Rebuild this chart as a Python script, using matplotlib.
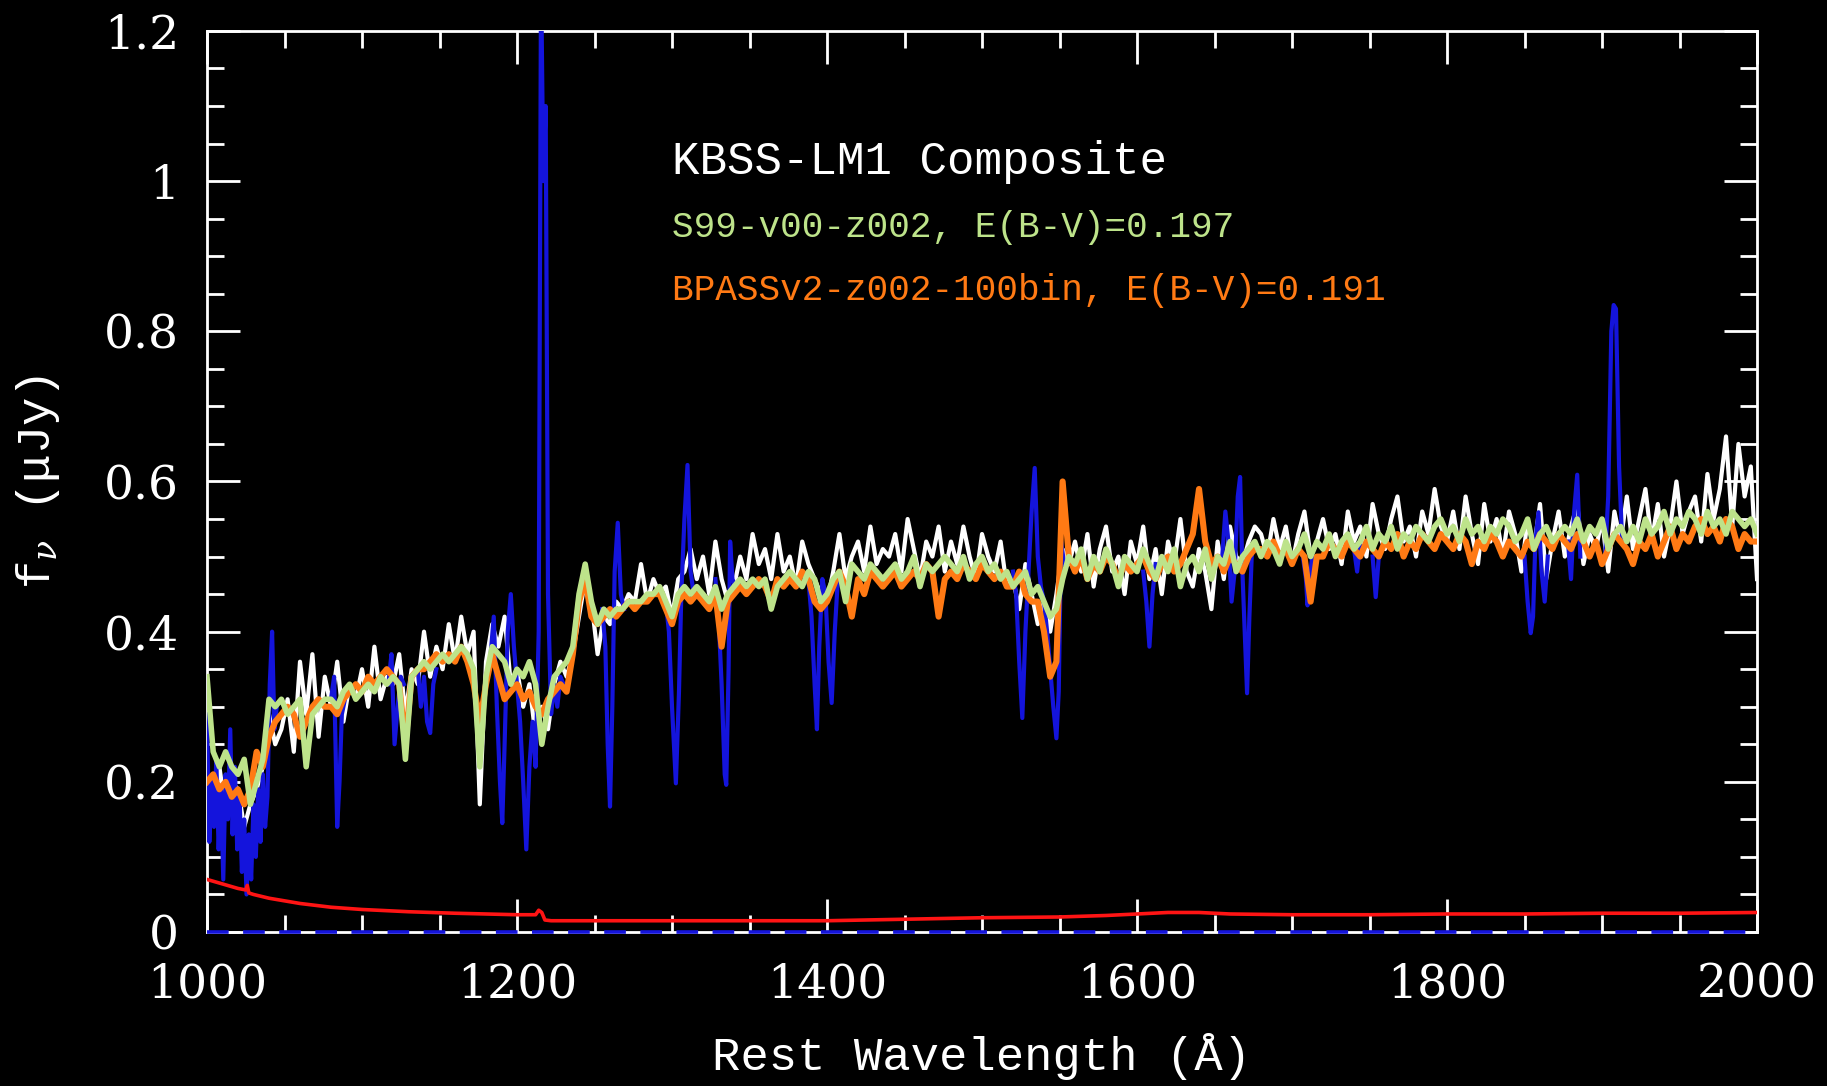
import numpy as np
import matplotlib
matplotlib.use("Agg")
import matplotlib.pyplot as plt
from matplotlib.ticker import MultipleLocator

# ---------------------------------------------------------------- data
# rest-frame wavelength grid of the composite and model spectra (Angstrom)
wave = np.arange(1000, 2001, 4)

# KBSS-LM1 composite (micro-Jansky)
flux_obs = (
    [0.21, 0.18, 0.22, 0.16, 0.20, 0.19, 0.14, 0.17, 0.19, 0.22] +
    [0.29, 0.25, 0.27, 0.31, 0.24, 0.36, 0.29, 0.37, 0.26, 0.34] +
    [0.30, 0.36, 0.28, 0.33, 0.31, 0.35, 0.30, 0.38, 0.31, 0.34] +
    [0.33, 0.37, 0.29, 0.35, 0.33, 0.40, 0.34, 0.38, 0.35, 0.41] +
    [0.36, 0.42, 0.37, 0.40, 0.17, 0.36, 0.41, 0.38, 0.42, 0.33] +
    [0.35, 0.30, 0.33, 0.26, 0.30, 0.27, 0.33, 0.36, 0.34, 0.37] +
    [0.42, 0.47, 0.44, 0.37, 0.42, 0.41, 0.44, 0.43, 0.45, 0.44] +
    [0.49, 0.44, 0.47, 0.45, 0.46, 0.42, 0.47, 0.48, 0.51, 0.47] +
    [0.50, 0.45, 0.52, 0.47, 0.44, 0.46, 0.50, 0.47, 0.53, 0.49] +
    [0.51, 0.47, 0.53, 0.48, 0.50, 0.46, 0.52, 0.49, 0.47, 0.45] +
    [0.44, 0.48, 0.53, 0.47, 0.50, 0.52, 0.48, 0.54, 0.49, 0.51] +
    [0.50, 0.53, 0.48, 0.55, 0.51, 0.47, 0.52, 0.50, 0.54, 0.48] +
    [0.52, 0.49, 0.54, 0.50, 0.47, 0.53, 0.50, 0.48, 0.52, 0.46] +
    [0.47, 0.43, 0.49, 0.45, 0.41, 0.44, 0.40, 0.45, 0.51, 0.49] +
    [0.52, 0.48, 0.53, 0.46, 0.51, 0.54, 0.48, 0.50, 0.45, 0.52] +
    [0.49, 0.54, 0.47, 0.51, 0.45, 0.52, 0.49, 0.55, 0.48, 0.46] +
    [0.51, 0.48, 0.43, 0.52, 0.47, 0.54, 0.50, 0.49, 0.52, 0.54] +
    [0.53, 0.50, 0.55, 0.51, 0.54, 0.49, 0.53, 0.56, 0.50, 0.52] +
    [0.55, 0.51, 0.53, 0.49, 0.56, 0.52, 0.54, 0.50, 0.57, 0.53] +
    [0.51, 0.55, 0.58, 0.52, 0.54, 0.50, 0.56, 0.53, 0.59, 0.54] +
    [0.52, 0.56, 0.51, 0.58, 0.53, 0.49, 0.57, 0.52, 0.55, 0.50] +
    [0.56, 0.53, 0.48, 0.55, 0.51, 0.57, 0.47, 0.52, 0.56, 0.50] +
    [0.54, 0.57, 0.49, 0.53, 0.51, 0.55, 0.48, 0.56, 0.52, 0.58] +
    [0.51, 0.55, 0.59, 0.52, 0.57, 0.50, 0.54, 0.60, 0.53, 0.56] +
    [0.58, 0.52, 0.61, 0.55, 0.59, 0.66, 0.54, 0.65, 0.58, 0.62] +
    [0.47]
)

# Starburst99 model, v00, Z=0.002, reddened with E(B-V)=0.197
flux_s99 = (
    [0.34, 0.24, 0.22, 0.24, 0.22, 0.21, 0.23, 0.17, 0.20, 0.23] +
    [0.31, 0.30, 0.31, 0.29, 0.30, 0.31, 0.22, 0.29, 0.30, 0.31] +
    [0.31, 0.30, 0.32, 0.33, 0.31, 0.32, 0.33, 0.32, 0.34, 0.33] +
    [0.34, 0.33, 0.23, 0.34, 0.35, 0.36, 0.35, 0.36, 0.37, 0.36] +
    [0.37, 0.38, 0.37, 0.35, 0.22, 0.34, 0.38, 0.37, 0.36, 0.33] +
    [0.35, 0.34, 0.36, 0.33, 0.25, 0.30, 0.34, 0.35, 0.36, 0.38] +
    [0.45, 0.49, 0.44, 0.41, 0.43, 0.42, 0.43, 0.43, 0.44, 0.44] +
    [0.44, 0.45, 0.45, 0.46, 0.44, 0.42, 0.45, 0.46, 0.45, 0.46] +
    [0.45, 0.44, 0.46, 0.43, 0.45, 0.46, 0.47, 0.46, 0.47, 0.46] +
    [0.47, 0.43, 0.46, 0.47, 0.48, 0.47, 0.46, 0.48, 0.47, 0.44] +
    [0.45, 0.47, 0.48, 0.44, 0.49, 0.48, 0.47, 0.49, 0.48, 0.47] +
    [0.48, 0.49, 0.47, 0.48, 0.50, 0.46, 0.49, 0.48, 0.49, 0.50] +
    [0.49, 0.48, 0.50, 0.47, 0.49, 0.50, 0.48, 0.49, 0.47, 0.48] +
    [0.46, 0.47, 0.48, 0.45, 0.46, 0.44, 0.42, 0.43, 0.47, 0.50] +
    [0.49, 0.51, 0.47, 0.50, 0.48, 0.51, 0.49, 0.46, 0.50, 0.49] +
    [0.48, 0.51, 0.49, 0.47, 0.50, 0.48, 0.51, 0.46, 0.49, 0.50] +
    [0.48, 0.51, 0.47, 0.50, 0.49, 0.52, 0.48, 0.50, 0.51, 0.52] +
    [0.50, 0.52, 0.51, 0.49, 0.52, 0.50, 0.51, 0.53, 0.50, 0.52] +
    [0.51, 0.53, 0.50, 0.52, 0.53, 0.51, 0.52, 0.54, 0.51, 0.53] +
    [0.52, 0.54, 0.51, 0.53, 0.52, 0.54, 0.53, 0.52, 0.54, 0.55] +
    [0.53, 0.54, 0.52, 0.55, 0.53, 0.54, 0.52, 0.54, 0.53, 0.55] +
    [0.54, 0.52, 0.53, 0.55, 0.51, 0.53, 0.54, 0.52, 0.53, 0.54] +
    [0.53, 0.55, 0.52, 0.54, 0.53, 0.55, 0.51, 0.53, 0.54, 0.52] +
    [0.54, 0.52, 0.55, 0.53, 0.54, 0.56, 0.53, 0.55, 0.54, 0.56] +
    [0.55, 0.53, 0.56, 0.54, 0.55, 0.53, 0.56, 0.55, 0.54, 0.55] +
    [0.53]
)

# BPASS v2 binary model, Z=0.002, 100 Msun IMF cut-off, E(B-V)=0.191
flux_bpass = (
    [0.20, 0.21, 0.19, 0.20, 0.18, 0.19, 0.17, 0.19, 0.24, 0.22] +
    [0.26, 0.28, 0.29, 0.30, 0.29, 0.26, 0.28, 0.30, 0.31, 0.30] +
    [0.30, 0.29, 0.31, 0.32, 0.33, 0.32, 0.34, 0.33, 0.34, 0.35] +
    [0.34, 0.33, 0.25, 0.34, 0.35, 0.35, 0.36, 0.37, 0.36, 0.37] +
    [0.36, 0.38, 0.36, 0.33, 0.28, 0.33, 0.37, 0.34, 0.31, 0.32] +
    [0.33, 0.31, 0.32, 0.30, 0.29, 0.31, 0.32, 0.33, 0.32, 0.37] +
    [0.44, 0.47, 0.42, 0.41, 0.42, 0.43, 0.42, 0.43, 0.44, 0.43] +
    [0.44, 0.44, 0.45, 0.45, 0.43, 0.41, 0.44, 0.45, 0.44, 0.45] +
    [0.44, 0.43, 0.45, 0.38, 0.44, 0.45, 0.46, 0.45, 0.46, 0.47] +
    [0.46, 0.44, 0.47, 0.46, 0.47, 0.46, 0.48, 0.47, 0.44, 0.43] +
    [0.44, 0.46, 0.48, 0.46, 0.42, 0.47, 0.45, 0.48, 0.47, 0.46] +
    [0.47, 0.48, 0.46, 0.47, 0.48, 0.47, 0.49, 0.48, 0.42, 0.47] +
    [0.48, 0.47, 0.49, 0.48, 0.47, 0.49, 0.48, 0.47, 0.48, 0.46] +
    [0.46, 0.48, 0.45, 0.44, 0.44, 0.40, 0.34, 0.36, 0.60, 0.50] +
    [0.48, 0.50, 0.47, 0.49, 0.48, 0.50, 0.49, 0.47, 0.49, 0.48] +
    [0.49, 0.50, 0.48, 0.47, 0.49, 0.50, 0.48, 0.49, 0.51, 0.53] +
    [0.59, 0.52, 0.49, 0.50, 0.48, 0.50, 0.49, 0.48, 0.50, 0.51] +
    [0.51, 0.50, 0.52, 0.50, 0.51, 0.49, 0.51, 0.50, 0.44, 0.50] +
    [0.50, 0.52, 0.51, 0.50, 0.52, 0.51, 0.50, 0.52, 0.51, 0.50] +
    [0.52, 0.51, 0.53, 0.50, 0.52, 0.51, 0.53, 0.52, 0.51, 0.53] +
    [0.52, 0.51, 0.53, 0.52, 0.49, 0.52, 0.51, 0.53, 0.52, 0.50] +
    [0.52, 0.51, 0.50, 0.52, 0.51, 0.53, 0.52, 0.51, 0.53, 0.52] +
    [0.51, 0.53, 0.52, 0.50, 0.52, 0.49, 0.51, 0.53, 0.52, 0.51] +
    [0.49, 0.52, 0.51, 0.53, 0.50, 0.52, 0.54, 0.51, 0.53, 0.52] +
    [0.54, 0.55, 0.53, 0.54, 0.52, 0.55, 0.54, 0.51, 0.53, 0.52] +
    [0.52]
)

# composite in the windows masked from the fit (NaN separates windows)
nan = np.nan
mask_wave = [
    1000, 1001.5, 1003, 1004.5, 1006, 1007.5, 1009, 1010.5, 1012, 1013.5,
    1015, 1016.5, 1018, 1019.5, 1021, 1022.5, 1024, 1025.5, 1027, 1028.5,
    1030, 1031.5, 1033, 1034.5, 1036, 1037.5, 1039, 1040.5, 1042, 1043.5, 1045, nan,
    1080, 1082, 1084, 1085.5, 1087, 1089, nan,
    1117, 1119, 1121, 1123, 1125, 1127, nan,
    1136, 1138, 1140, 1142, 1144, 1146, 1148, nan,
    1183, 1185, 1187, 1189, 1190.5, 1192, 1194, 1196, 1198, 1200, 1202, 1204,
    1206, 1208, 1210, 1212, 1214, 1215.5, 1217, 1218.5, 1220, 1222, 1224, 1226,
    1228, 1230, nan,
    1255, 1257, 1258.5, 1260, 1261.5, 1263, 1265, 1267, 1269, nan,
    1296, 1298, 1300, 1302.5, 1304.5, 1306, 1308, 1310, 1312, 1314, nan,
    1328, 1330, 1332, 1334, 1335, 1336.5, 1337.5, 1339, 1341, nan,
    1388, 1390, 1392, 1393.5, 1395, 1397, 1399, 1401, 1403, 1405, 1407, nan,
    1520, 1522, 1524, 1526, 1528, 1530, 1532, 1534, 1536, 1538, 1540, 1542,
    1544, 1546, 1548, 1549.5, 1551, 1553, nan,
    1604, 1606, 1608, 1610, 1612, nan,
    1655, 1657, 1659, 1661, 1663, 1665, 1666.5, 1668, 1669.5, 1671, 1672.5, 1674, nan,
    1707, 1709, 1710, 1711.5, 1713, nan,
    1740, 1742, 1744, nan,
    1752, 1754, 1756, nan,
    1850, 1852, 1854, 1855.5, 1857, 1859, 1861, 1863, 1865, nan,
    1878, 1880, 1882, 1884, 1886, nan,
    1902, 1904, 1906, 1907.5, 1909, 1911, 1913,
]
mask_flux = [
    0.29, 0.12, 0.20, 0.14, 0.23, 0.11, 0.19, 0.07, 0.21, 0.15,
    0.27, 0.13, 0.22, 0.11, 0.18, 0.08, 0.15, 0.05, 0.13, 0.07,
    0.17, 0.10, 0.19, 0.12, 0.21, 0.14, 0.18, 0.33, 0.40, 0.27, 0.30, nan,
    0.31, 0.34, 0.14, 0.20, 0.29, 0.31, nan,
    0.33, 0.37, 0.25, 0.30, 0.34, 0.33, nan,
    0.35, 0.30, 0.34, 0.28, 0.265, 0.33, 0.35, nan,
    0.37, 0.42, 0.30, 0.20, 0.145, 0.25, 0.40, 0.45, 0.38, 0.33, 0.28, 0.20,
    0.11, 0.22, 0.28, 0.22, 0.40, 1.28, 1.00, 1.10, 0.45, 0.29, 0.33, 0.30,
    0.34, 0.33, nan,
    0.43, 0.38, 0.25, 0.167, 0.30, 0.48, 0.545, 0.45, 0.43, nan,
    0.44, 0.40, 0.30, 0.198, 0.32, 0.45, 0.55, 0.622, 0.48, 0.45, nan,
    0.47, 0.42, 0.33, 0.21, 0.196, 0.35, 0.52, 0.47, 0.46, nan,
    0.47, 0.42, 0.33, 0.27, 0.38, 0.47, 0.45, 0.36, 0.305, 0.40, 0.47, nan,
    0.48, 0.45, 0.36, 0.285, 0.40, 0.48, 0.56, 0.618, 0.50, 0.46, 0.44, 0.40,
    0.35, 0.30, 0.258, 0.32, 0.52, 0.49, nan,
    0.48, 0.44, 0.38, 0.45, 0.49, nan,
    0.50, 0.56, 0.52, 0.44, 0.48, 0.58, 0.606, 0.48, 0.40, 0.318, 0.42, 0.50, nan,
    0.50, 0.47, 0.435, 0.47, 0.50, nan,
    0.51, 0.48, 0.52, nan,
    0.50, 0.446, 0.50, nan,
    0.50, 0.44, 0.398, 0.42, 0.52, 0.559, 0.48, 0.44, 0.50, nan,
    0.52, 0.47, 0.56, 0.609, 0.50, nan,
    0.50, 0.58, 0.80, 0.835, 0.83, 0.62, 0.52,
]

# 1-sigma error spectrum of the composite
err_wave = [1000, 1010, 1020, 1025, 1026, 1027, 1030, 1040, 1060, 1080, 1100,
            1130, 1160, 1200, 1212, 1214, 1216, 1218, 1222, 1250, 1300, 1350,
            1400, 1450, 1500, 1550, 1580, 1600, 1620, 1640, 1660, 1700, 1750,
            1800, 1850, 1900, 1950, 2000]
err_flux = [0.070, 0.064, 0.058, 0.056, 0.062, 0.052, 0.050, 0.045, 0.038,
            0.033, 0.030, 0.027, 0.025, 0.023, 0.023, 0.029, 0.026, 0.016,
            0.015, 0.015, 0.015, 0.015, 0.015, 0.017, 0.019, 0.020, 0.022,
            0.024, 0.026, 0.026, 0.024, 0.023, 0.023, 0.024, 0.024, 0.025,
            0.025, 0.026]

title_text = "KBSS-LM1 Composite"
s99_label = "S99-v00-z002, E(B-V)=0.197"
bpass_label = "BPASSv2-z002-100bin, E(B-V)=0.191"

# ---------------------------------------------------------------- style
WHITE = "#ffffff"
BLUE = "#1414dc"
GREEN = "#bde38a"
ORANGE = "#ff7a14"
RED = "#ff1414"

plt.rcParams["mathtext.fontset"] = "dejavuserif"
mono = ["Liberation Mono", "DejaVu Sans Mono"]

fig = plt.figure(figsize=(18.27, 10.86), dpi=100, facecolor="black")
ax = fig.add_axes([0.1133, 0.1418, 0.8484, 0.8297], facecolor="black")

ax.plot(wave, flux_obs, color=WHITE, lw=3.0, zorder=2)
ax.plot(mask_wave, mask_flux, color=BLUE, lw=3.0, zorder=3)
ax.plot(wave, flux_bpass, color=ORANGE, lw=4.4, zorder=4)
ax.plot(wave, flux_s99, color=GREEN, lw=4.0, zorder=5)
ax.plot(err_wave, err_flux, color=RED, lw=2.6, zorder=6)
ax.axhline(0, color=BLUE, lw=2.6, dashes=(6, 4), zorder=7, clip_on=False)

ax.set_xlim(1000, 2000)
ax.set_ylim(0, 1.2)
ax.xaxis.set_major_locator(MultipleLocator(200))
ax.xaxis.set_minor_locator(MultipleLocator(50))
ax.yaxis.set_minor_locator(MultipleLocator(0.05))
ax.set_yticks([0, 0.2, 0.4, 0.6, 0.8, 1.0, 1.2])
ax.set_yticklabels(["0", "0.2", "0.4", "0.6", "0.8", "1", "1.2"])

for side in ax.spines.values():
    side.set_color(WHITE)
    side.set_linewidth(2.0)

ax.tick_params(which="both", direction="in", top=True, right=True,
               colors=WHITE, width=2.0)
ax.tick_params(which="major", length=24)
ax.tick_params(which="minor", length=12)
ax.tick_params(axis="x", which="major", pad=22)
ax.tick_params(axis="y", which="major", pad=20)
for lab in ax.get_xticklabels() + ax.get_yticklabels():
    lab.set_fontfamily("DejaVu Serif")
    lab.set_fontsize(34)
    lab.set_color(WHITE)

ax.set_xlabel("Rest Wavelength (Å)", fontsize=34, labelpad=18,
              family=mono, color=WHITE)
ax.set_ylabel("f$_{ν}$ (μJy)", fontsize=34, labelpad=30,
              family=mono, color=WHITE)

ax.text(1300, 1.025, title_text, fontsize=33, va="center", ha="left",
        family=mono, color=WHITE)
ax.text(1300, 0.938, s99_label, fontsize=26, va="center", ha="left",
        family=mono, color=GREEN)
ax.text(1300, 0.854, bpass_label, fontsize=26, va="center", ha="left",
        family=mono, color=ORANGE)

fig.savefig("out.png", dpi=100, facecolor="black")
